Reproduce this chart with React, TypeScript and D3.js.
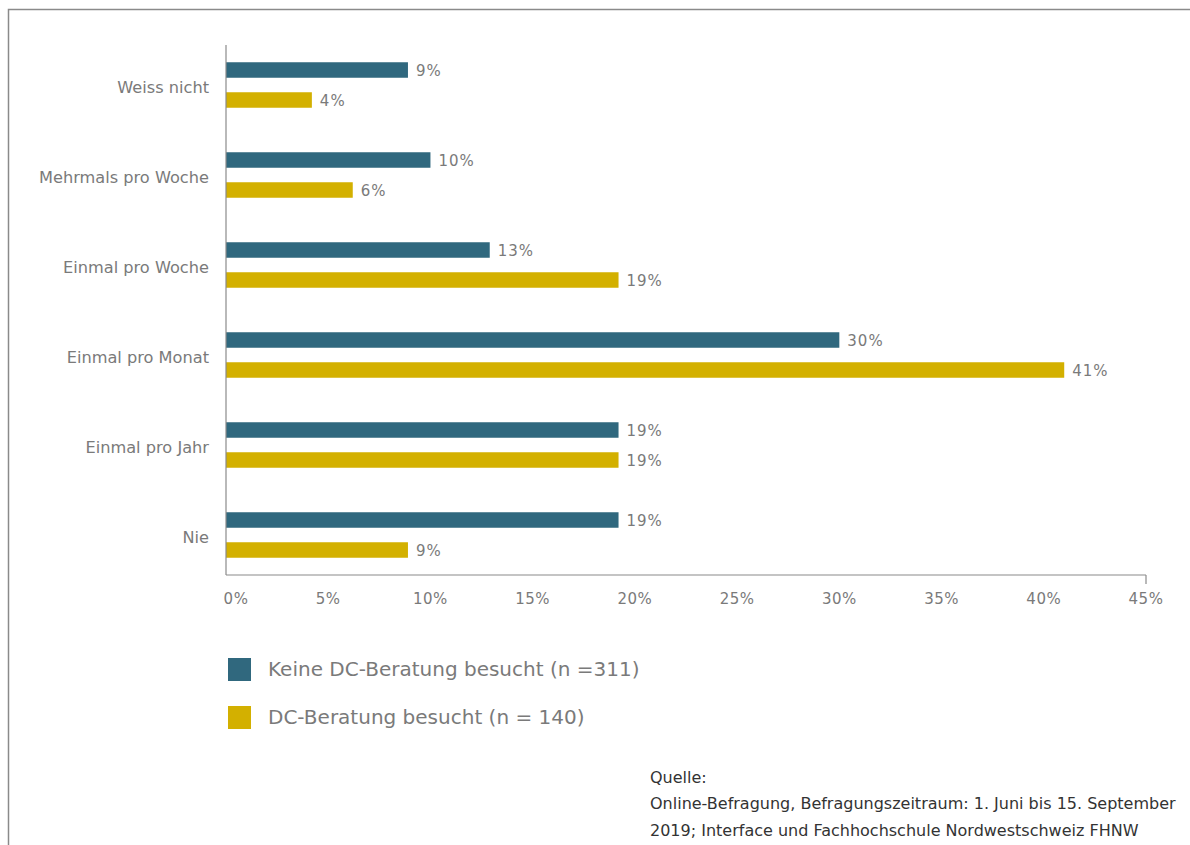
import React from "react";
import * as d3 from "d3";

const categories = ["Weiss nicht", "Mehrmals pro Woche", "Einmal pro Woche", "Einmal pro Monat", "Einmal pro Jahr", "Nie"];
const keineValues = [8.9, 10.0, 12.9, 30.0, 19.2, 19.2];
const keineLabels = ["9%", "10%", "13%", "30%", "19%", "19%"];
const dcValues = [4.2, 6.2, 19.2, 41.0, 19.2, 8.9];
const dcLabels = ["4%", "6%", "19%", "41%", "19%", "9%"];
const xTicks = [0, 5, 10, 15, 20, 25, 30, 35, 40, 45];
const seriesNames = ["Keine DC-Beratung besucht (n =311)", "DC-Beratung besucht (n = 140)"];
const sourceLines = [
  "Quelle:",
  "Online-Befragung, Befragungszeitraum: 1. Juni bis 15. September",
  "2019; Interface und Fachhochschule Nordwestschweiz FHNW",
];

const BLUE = "#30687e";
const YELLOW = "#d3b000";
const GRAY = "#7a7a7a";
const FONT = "'DejaVu Sans', sans-serif";

export default function App() {
  const x = d3.scaleLinear().domain([0, 45]).range([226, 1146]);
  const y = d3.scaleBand<string>().domain(categories).range([40, 580]);
  const sub = d3.scaleBand<number>().domain([0, 1]).range([-30, 30]);
  const barH = 15.5;
  const series = [
    { values: keineValues, labels: keineLabels, color: BLUE },
    { values: dcValues, labels: dcLabels, color: YELLOW },
  ];

  return (
    <svg width={1190} height={845} style={{ position: "absolute", left: 0, top: 0, background: "#fff" }} fontFamily={FONT}>
      <path d="M8.5,845 V9.5 H1190" fill="none" stroke="#8a8a8a" strokeWidth={1.5} />
      {categories.map((c, i) => {
        const cy = (y(c) as number) + y.bandwidth() / 2;
        return (
          <g key={c}>
            <text x={209} y={cy + 2} textAnchor="end" dominantBaseline="central" fontSize={16.2} fill={GRAY}>{c}</text>
            {series.map((s, j) => {
              const by = cy + (sub(j) as number) + sub.bandwidth() / 2;
              return (
                <g key={j}>
                  <rect x={x(0)} y={by - barH / 2} width={x(s.values[i]) - x(0)} height={barH} fill={s.color} />
                  <text x={x(s.values[i]) + 8} y={by + 1} dominantBaseline="central" fontSize={15} fill={GRAY} letterSpacing={1}>{s.labels[i]}</text>
                </g>
              );
            })}
          </g>
        );
      })}
      <line x1={x(0)} x2={x(0)} y1={45} y2={575} stroke="#8a8a8a" strokeWidth={1.2} />
      <line x1={x(0)} x2={x(45)} y1={575} y2={575} stroke="#8a8a8a" strokeWidth={1.2} />
      <line x1={x(45)} x2={x(45)} y1={575} y2={584} stroke="#8a8a8a" strokeWidth={1.2} />
      {xTicks.map((t) => (
        <text key={t} x={x(t) + (t === 0 ? 10 : 0)} y={599} textAnchor="middle" dominantBaseline="central" fontSize={15} fill={GRAY} letterSpacing={0.5}>{t}%</text>
      ))}
      {seriesNames.map((n, i) => (
        <g key={n}>
          <rect x={228} y={658 + i * 48} width={23} height={23} fill={i === 0 ? BLUE : YELLOW} />
          <text x={268} y={669 + i * 48} dominantBaseline="central" fontSize={20} fill={GRAY}>{n}</text>
        </g>
      ))}
      {sourceLines.map((l, i) => (
        <text key={i} x={650} y={777 + i * 26.5} dominantBaseline="central" fontSize={16} fill="#333">{l}</text>
      ))}
    </svg>
  );
}
